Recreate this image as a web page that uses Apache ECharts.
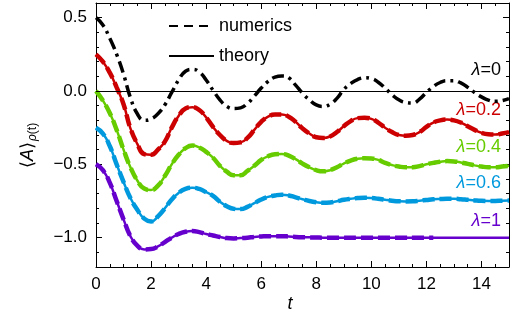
<!DOCTYPE html>
<html>
<head>
<meta charset="utf-8">
<script src="https://cdn.jsdelivr.net/npm/echarts@6/dist/echarts.min.js"></script>
<style>
html, body {margin: 0; padding: 0; background: #fff;}
#chart {width: 515px; height: 322px;}
</style>
</head>
<body>
<div id="chart"></div>
<script>
// time grid, step 0.25
const t = [0, 0.25, 0.5, 0.75, 1, 1.25, 1.5, 1.75, 2, 2.25, 2.5, 2.75, 3, 3.25, 3.5, 3.75, 4, 4.25, 4.5, 4.75,
  5, 5.25, 5.5, 5.75, 6, 6.25, 6.5, 6.75, 7, 7.25, 7.5, 7.75, 8, 8.25, 8.5, 8.75, 9, 9.25, 9.5, 9.75,
  10, 10.25, 10.5, 10.75, 11, 11.25, 11.5, 11.75, 12, 12.25, 12.5, 12.75, 13, 13.25, 13.5, 13.75, 14, 14.25, 14.5, 14.75, 15];

// <A>(t)
const lam0 = [0.50, 0.45, 0.36, 0.25, 0.115, -0.045, -0.155, -0.20, -0.19, -0.155,
  -0.095, -0.01, 0.075, 0.135, 0.148, 0.13, 0.075, 0.005, -0.06, -0.105,
  -0.12, -0.115, -0.085, -0.035, 0.02, 0.065, 0.095, 0.103, 0.09, 0.04,
  -0.015, -0.06, -0.095, -0.105, -0.09, -0.05, 0.01, 0.05, 0.078, 0.09,
  0.085, 0.06, 0.02, -0.025, -0.06, -0.078, -0.082, -0.055, -0.01, 0.03,
  0.058, 0.07, 0.07, 0.055, 0.025, -0.01, -0.04, -0.062, -0.07, -0.065, -0.052];
const lam02 = [0.25, 0.20, 0.125, 0.025, -0.09, -0.255, -0.36, -0.43, -0.435, -0.40,
  -0.345, -0.25, -0.17, -0.12, -0.11, -0.13, -0.18, -0.245, -0.30, -0.34,
  -0.355, -0.35, -0.32, -0.265, -0.21, -0.175, -0.16, -0.16, -0.175, -0.21,
  -0.255, -0.29, -0.315, -0.32, -0.31, -0.28, -0.24, -0.205, -0.185, -0.182,
  -0.19, -0.215, -0.25, -0.28, -0.30, -0.305, -0.30, -0.28, -0.245, -0.215,
  -0.20, -0.195, -0.20, -0.215, -0.24, -0.265, -0.285, -0.295, -0.297, -0.29, -0.28];
const lam04 = [0.0, -0.065, -0.15, -0.265, -0.40, -0.52, -0.61, -0.665, -0.675, -0.645,
  -0.58, -0.50, -0.435, -0.39, -0.372, -0.385, -0.415, -0.455, -0.51, -0.55,
  -0.575, -0.575, -0.545, -0.51, -0.47, -0.445, -0.432, -0.43, -0.44, -0.465,
  -0.495, -0.52, -0.54, -0.548, -0.54, -0.52, -0.495, -0.475, -0.462, -0.458,
  -0.46, -0.47, -0.49, -0.505, -0.515, -0.52, -0.52, -0.512, -0.50, -0.49,
  -0.482, -0.478, -0.48, -0.487, -0.497, -0.507, -0.515, -0.52, -0.52, -0.515, -0.51];
const lam06 = [-0.25, -0.29, -0.375, -0.50, -0.62, -0.73, -0.81, -0.87, -0.89, -0.855,
  -0.80, -0.74, -0.695, -0.668, -0.66, -0.668, -0.69, -0.715, -0.755, -0.785,
  -0.803, -0.805, -0.79, -0.765, -0.74, -0.722, -0.712, -0.707, -0.712, -0.725,
  -0.738, -0.75, -0.758, -0.762, -0.76, -0.752, -0.742, -0.735, -0.73, -0.728,
  -0.73, -0.735, -0.742, -0.748, -0.752, -0.753, -0.752, -0.748, -0.743, -0.738,
  -0.736, -0.735, -0.735, -0.738, -0.742, -0.746, -0.749, -0.75, -0.75, -0.748, -0.747];
const lam1 = [-0.50, -0.54, -0.625, -0.75, -0.875, -0.99, -1.055, -1.08, -1.078, -1.06,
  -1.03, -1.0, -0.975, -0.96, -0.955, -0.962, -0.975, -0.985, -0.995, -1.003,
  -1.005, -1.003, -1.0, -0.995, -0.992, -0.99, -0.99, -0.99, -0.992, -0.995,
  -0.997, -0.998, -0.999, -1.0, -1.0, -1.0, -1.0, -1.0, -1.0, -1.0,
  -1.0, -1.0, -1.0, -1.0, -1.0, -1.0, -1.0, -1.0, -1.0, -1.0,
  -1.0, -1.0, -1.0, -1.0, -1.0, -1.0, -1.0, -1.0, -1.0, -1.0, -1.0];
const lam1NumEnd = 12.25; // numerics for lambda=1 stop here

const xMajor = [0, 2, 4, 6, 8, 10, 12, 14];
const yMajor = [-1, -0.5, 0, 0.5];

const FONT = '"Liberation Sans", Arial, sans-serif';
const pair = arr => t.map((x, i) => [x, arr[i]]);

const curves = [
  {lam: '0.2', data: lam02, color: '#cc0000'},
  {lam: '0.4', data: lam04, color: '#66cc00'},
  {lam: '0.6', data: lam06, color: '#0099dd'},
  {lam: '1', data: lam1, color: '#6600cc'}
];

const minorAxis = (dim, pos) => ({
  type: 'value', position: pos,
  min: dim === 'x' ? 0 : -1.2, max: dim === 'x' ? 15 : 0.6,
  interval: dim === 'x' ? 0.5 : 0.1,
  axisLine: {show: true, onZero: false, lineStyle: {color: '#000', width: 1}},
  axisTick: {show: true, inside: true, length: 3, lineStyle: {color: '#000', width: 1}},
  axisLabel: {show: false},
  splitLine: {show: false}
});
const majorAxis = (dim, pos) => ({
  type: 'value', position: pos,
  min: dim === 'x' ? 0 : -1.2, max: dim === 'x' ? 15 : 0.6,
  axisLine: {show: false, onZero: false},
  axisTick: {show: true, inside: true, length: 6, customValues: dim === 'x' ? xMajor : yMajor,
    lineStyle: {color: '#000', width: 1}},
  axisLabel: {show: false},
  splitLine: {show: false}
});

const xBottom = minorAxis('x', 'bottom');
xBottom.axisLabel = {show: true, customValues: xMajor, color: '#000', fontSize: 17, fontFamily: FONT, margin: 9};
const yLeft = minorAxis('y', 'left');
yLeft.axisLabel = {
  show: true, customValues: yMajor, color: '#000', fontSize: 17, fontFamily: FONT, margin: 9,
  formatter: v => (v < 0 ? '\u2212' : '') + Math.abs(v).toFixed(1)
};

const series = [
  {name: 'numerics', type: 'line', data: [], symbol: 'none', lineStyle: {color: '#000', width: 2, type: [9, 6]}, itemStyle: {color: '#000'}},
  {name: 'theory', type: 'line', data: [], symbol: 'none', lineStyle: {color: '#000', width: 1.5}, itemStyle: {color: '#000'}},
  {
    name: 'lambda0', type: 'line', data: pair(lam0), smooth: true, symbol: 'none',
    lineStyle: {color: '#000', width: 3.5, type: [12, 5, 3, 5], cap: 'butt'},
    markLine: {silent: true, symbol: ['none', 'none'], label: {show: false},
      lineStyle: {color: '#000', width: 1, type: 'solid'}, data: [{yAxis: 0}]},
    z: 3
  }
];
curves.forEach(c => {
  series.push({
    name: 'theory ' + c.lam, type: 'line', data: pair(c.data), smooth: true, symbol: 'none',
    lineStyle: {color: c.color, width: 2.5}, z: 2
  });
  let num = pair(c.data);
  if (c.lam === '1') num = num.filter(p => p[0] <= lam1NumEnd);
  series.push({
    name: 'numerics ' + c.lam, type: 'line', data: num, smooth: true, symbol: 'none',
    lineStyle: {color: c.color, width: 4.5, type: [12, 5], cap: 'butt'}, z: 2
  });
});

const lamLabels = [
  {txt: '0', color: '#000', y: 70},
  {txt: '0.2', color: '#cc0000', y: 110},
  {txt: '0.4', color: '#66cc00', y: 147},
  {txt: '0.6', color: '#0099dd', y: 183},
  {txt: '1', color: '#6600cc', y: 221}
];

const chart = echarts.init(document.getElementById('chart'), null, {renderer: 'canvas'});
chart.setOption({
  animation: false,
  backgroundColor: '#fff',
  grid: {left: 96, right: 6, top: 3, bottom: 55, containLabel: false},
  xAxis: [xBottom, majorAxis('x', 'bottom'), minorAxis('x', 'top'), majorAxis('x', 'top')],
  yAxis: [yLeft, majorAxis('y', 'left'), minorAxis('y', 'right'), majorAxis('y', 'right')],
  legend: {
    data: ['numerics', 'theory'], orient: 'vertical', left: 163, top: 12,
    itemWidth: 45, itemHeight: 14, itemGap: 12,
    itemStyle: {opacity: 0},
    textStyle: {color: '#000', fontSize: 18, fontFamily: FONT}
  },
  series: series,
  graphic: [
    {
      type: 'group', x: 28, y: 141, rotation: Math.PI / 2,
      children: [
        {type: 'text', x: -27, y: 0, style: {text: '\u27E8{i|A}\u27E9', fill: '#000', font: '18px ' + FONT,
          verticalAlign: 'middle', align: 'left',
          rich: {i: {fontStyle: 'italic', fontSize: 18, fontFamily: FONT, fill: '#000'}}}},
        {type: 'text', x: 0, y: 5, style: {text: '{i|\u03C1}(t)', fill: '#000', font: '12px ' + FONT,
          verticalAlign: 'middle', align: 'left',
          rich: {i: {fontStyle: 'italic', fontSize: 12, fontFamily: FONT, fill: '#000'}}}}
      ]
    },
    {type: 'text', x: 290, y: 304, style: {text: 't', fill: '#000', font: 'italic 18px ' + FONT, align: 'center', verticalAlign: 'middle'}}
  ].concat(lamLabels.map(l => ({
    type: 'text', x: 501, y: l.y,
    style: {text: '{i|\u03BB}=' + l.txt, fill: l.color, font: '18px ' + FONT, align: 'right', verticalAlign: 'middle',
      rich: {i: {fontStyle: 'italic', fontSize: 18, fontFamily: FONT, fill: l.color}}}
  })))
});
</script>
</body>
</html>
